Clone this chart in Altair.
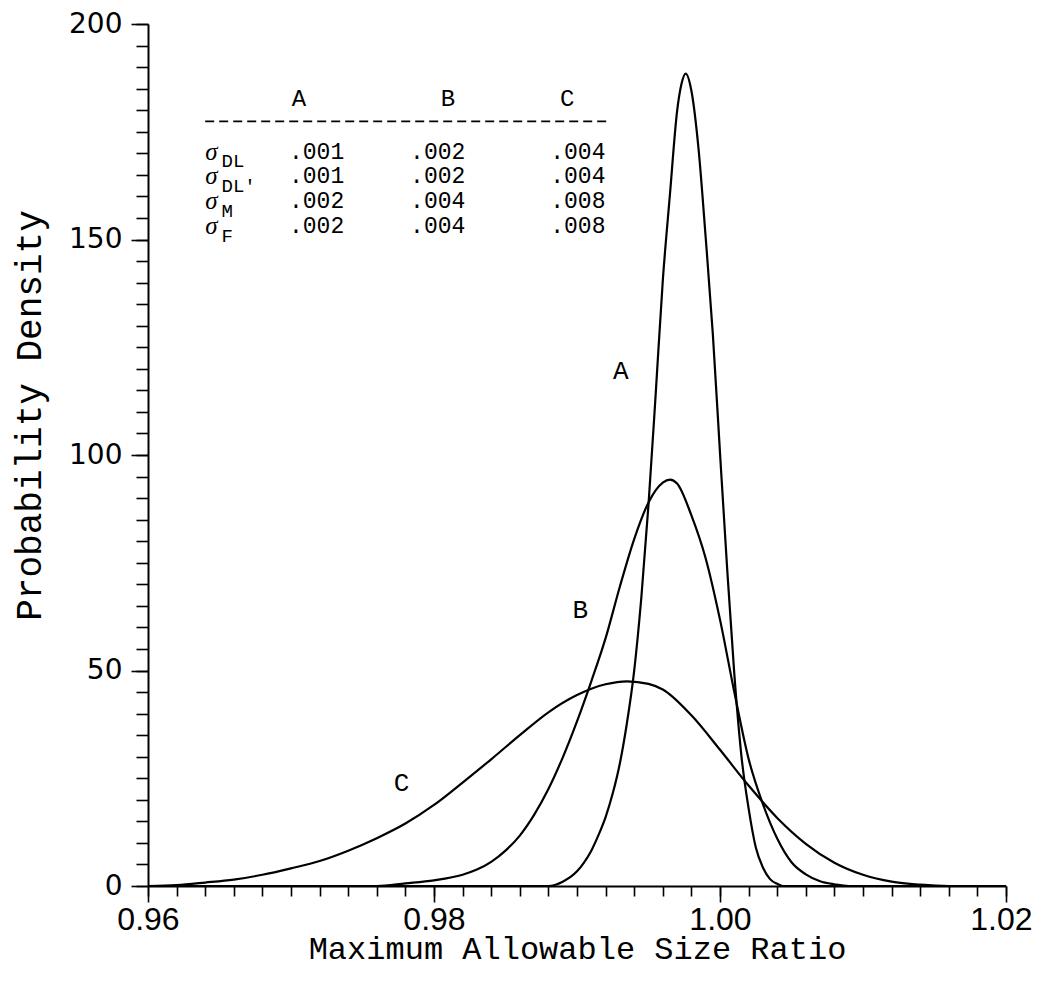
import altair as alt
import pandas as pd

# ---------------- curve data ----------------
a_x = [0.9600, 0.9880, 0.9890, 0.9900, 0.9905, 0.9910, 0.9915, 0.9920, 0.9925,
       0.9930, 0.9935, 0.9940, 0.9945, 0.9950, 0.9955, 0.9960, 0.9965, 0.9970,
       0.9973, 0.9976, 0.9980, 0.9985, 0.9990, 0.9995, 1.0000, 1.0005, 1.0010,
       1.0015, 1.0020, 1.0025, 1.0030, 1.0035, 1.0040, 1.0044, 1.0200]
a_y = [0.0, 0.0, 1.0, 3.4, 5.5, 8.2, 11.8, 16.0, 21.5,
       28.5, 38.0, 50.0, 67.0, 88.5, 114.0, 140.5, 160.5, 179.8,
       186.0, 188.5, 184.5, 171.0, 150.4, 128.0, 100.5, 73.7, 49.2,
       30.1, 18.0, 9.0, 4.3, 1.6, 0.5, 0.0, 0.0]

b_x = [0.960, 0.976, 0.978, 0.980, 0.982, 0.983, 0.984, 0.985, 0.986, 0.987,
       0.988, 0.989, 0.990, 0.991, 0.992, 0.993, 0.994, 0.995, 0.996, 0.9965,
       0.997, 0.998, 0.999, 1.000, 1.001, 1.002, 1.003, 1.004, 1.005, 1.006,
       1.007, 1.008, 1.009, 1.020]
b_y = [0.0, 0.0, 0.6, 1.3, 2.6, 3.8, 5.6, 8.2, 11.7, 16.5,
       22.5, 29.8, 38.2, 47.5, 57.5, 69.5, 80.5, 89.0, 93.6, 94.3,
       93.4, 86.0, 76.0, 61.8, 45.0, 29.5, 19.0, 11.0, 5.5, 2.7,
       1.1, 0.4, 0.0, 0.0]

c_x = [0.960, 0.962, 0.964, 0.966, 0.968, 0.970, 0.972, 0.974, 0.976, 0.978,
       0.980, 0.982, 0.984, 0.986, 0.988, 0.990, 0.992, 0.9935, 0.995, 0.996,
       0.998, 1.000, 1.002, 1.004, 1.006, 1.008, 1.010, 1.012, 1.014, 1.016,
       1.020]
c_y = [0.0, 0.2, 0.8, 1.5, 2.6, 4.1, 5.8, 8.2, 11.1, 14.5,
       18.8, 24.0, 29.4, 35.0, 40.3, 44.3, 46.8, 47.5, 46.9, 45.6,
       39.6, 31.6, 23.3, 15.8, 9.8, 5.4, 2.6, 1.0, 0.3, 0.0,
       0.0]

# ---------------- annotation data ----------------
curve_label_text = ["A", "B", "C"]
curve_label_x = [0.99306, 0.99023, 0.97773]
curve_label_y = [119.4, 64.0, 23.9]

table_head_text = ["A", "B", "C"]
table_head_x = [0.97056, 0.98097, 0.98931]
table_head_y = [182.6, 182.6, 182.6]

table_rule_x = [0.9640]
table_rule_x2 = [0.9922]
table_rule_y = [177.4]

row_y = [170.4, 164.8, 159.0, 153.2]
row_sub = ["DL", "DL'", "M", "F"]
col_a = [".001", ".001", ".002", ".002"]
col_b = [".002", ".002", ".004", ".004"]
col_c = [".004", ".004", ".008", ".008"]
col_x = [0.96986, 0.97833, 0.98813]
sigma_x = [0.96444]
sub_x = [0.96514]
sub_drop = [2.3]

x_major_ticks = [0.96, 0.98, 1.00, 1.02]
x_minor_ticks = [round(0.96 + 0.002 * i, 3) for i in range(31)]
y_major_ticks = [0, 50, 100, 150, 200]
y_minor_ticks = [5 * i for i in range(41)]

# ---------------- build tables ----------------
rows = []
for name, xs, ys in [("A", a_x, a_y), ("B", b_x, b_y), ("C", c_x, c_y)]:
    for xv, yv in zip(xs, ys):
        rows.append({"curve": name, "x": xv, "y": yv})
curves = pd.DataFrame(rows)

lab_df = pd.DataFrame({"t": curve_label_text, "x": curve_label_x, "y": curve_label_y})
head_df = pd.DataFrame({"t": table_head_text, "x": table_head_x, "y": table_head_y})
rule_df = pd.DataFrame({"x": table_rule_x, "x2": table_rule_x2, "y": table_rule_y})

val_rows = []
for col, xv in zip([col_a, col_b, col_c], col_x):
    for t, yv in zip(col, row_y):
        val_rows.append({"t": t, "x": xv, "y": yv})
val_df = pd.DataFrame(val_rows)
sig_df = pd.DataFrame({"t": ["σ"] * 4, "x": sigma_x * 4, "y": row_y})
sub_df = pd.DataFrame({"t": row_sub, "x": sub_x * 4, "y": [v - sub_drop[0] for v in row_y]})

xscale = alt.Scale(domain=[0.96, 1.02], nice=False, zero=False)
yscale = alt.Scale(domain=[0, 200], nice=False)

LAST = "abs(datum.value - 1.02) < 1e-6"

x_axis = alt.Axis(
    orient="bottom",
    values=x_major_ticks,
    labelExpr=f"{LAST} ? '' : format(datum.value, '.2f')",
    labelOverlap=False, labelFlush=False,
    ticks=True, tickSize=16, tickColor="black", tickWidth=1.6,
    domainColor="black", domainWidth=2,
    labelFont="Liberation Sans", labelFontSize=32, labelColor="black",
    labelPadding=2, grid=False,
    title="Maximum Allowable Size Ratio",
    titleFont="Liberation Mono", titleFontSize=32, titleFontWeight="normal",
    titleColor="black", titleY=72, titleBaseline="alphabetic",
)
y_axis = alt.Axis(
    orient="left",
    values=y_major_ticks, format="d",
    labelOverlap=False, labelFlush=False,
    tickSize=17, tickColor="black", tickWidth=1.6,
    domainColor="black", domainWidth=2,
    labelFont="DejaVu Sans", labelFontSize=28, labelColor="black",
    labelPadding=9, grid=False,
    title="Probability Density",
    titleFont="Liberation Mono", titleFontSize=36, titleFontWeight="normal",
    titleColor="black", titleX=-108, titleY=391, titleBaseline="alphabetic",
    titleAngle=270,
)
x_minor_axis = alt.Axis(
    orient="bottom", values=x_minor_ticks,
    labelExpr=f"{LAST} ? '1.02' : ''",
    labelAlign="right", labelOffset=26, labelPadding=8,
    labelFont="Liberation Sans", labelFontSize=32, labelColor="black",
    labelOverlap=False, labelFlush=False, domain=False,
    ticks=True, tickSize=10, tickColor="black", tickWidth=1.6, grid=False, title=None,
)
y_minor_axis = alt.Axis(
    orient="left", values=y_minor_ticks, labels=False, domain=False,
    tickSize=12, tickColor="black", tickWidth=1.6, grid=False, title=None,
)

minor = alt.Chart(curves).mark_line(strokeOpacity=0).encode(
    x=alt.X("x:Q", scale=xscale, axis=x_minor_axis),
    y=alt.Y("y:Q", scale=yscale, axis=y_minor_axis),
    detail="curve:N",
)

lines = alt.Chart(curves).mark_line(
    color="black", strokeWidth=2.2, interpolate="monotone"
).encode(
    x=alt.X("x:Q", scale=xscale, axis=x_axis),
    y=alt.Y("y:Q", scale=yscale, axis=y_axis),
    detail="curve:N",
)


def txt(df, font, size, align="center", style="normal", baseline="middle"):
    return alt.Chart(df).mark_text(
        font=font, fontSize=size, align=align, baseline=baseline,
        fontStyle=style, color="black"
    ).encode(
        x=alt.X("x:Q", scale=xscale, axis=None),
        y=alt.Y("y:Q", scale=yscale, axis=None),
        text="t:N",
    )


curve_labels = txt(lab_df, "Liberation Mono", 26)
heads = txt(head_df, "Liberation Mono", 24)
values = txt(val_df, "Liberation Mono", 23, align="left")
sigmas = txt(sig_df, "Liberation Serif", 25, style="italic")
subs = txt(sub_df, "Liberation Mono", 19, align="left")

rule = alt.Chart(rule_df).mark_rule(
    color="black", strokeWidth=1.6, strokeDash=[9, 5]
).encode(
    x=alt.X("x:Q", scale=xscale, axis=None),
    x2="x2:Q",
    y=alt.Y("y:Q", scale=yscale, axis=None),
)

chart = alt.layer(
    minor, lines, curve_labels, heads, rule, values, sigmas, subs
).resolve_axis(
    x="independent", y="independent"
).properties(
    width=858, height=862,
    padding={"left": 140, "top": 16, "right": 26, "bottom": 86},
    autosize=alt.AutoSizeParams(type="none"),
    background="white",
).configure_view(stroke=None)

chart.save("out.html", embed_options={"renderer": "svg", "actions": False})
